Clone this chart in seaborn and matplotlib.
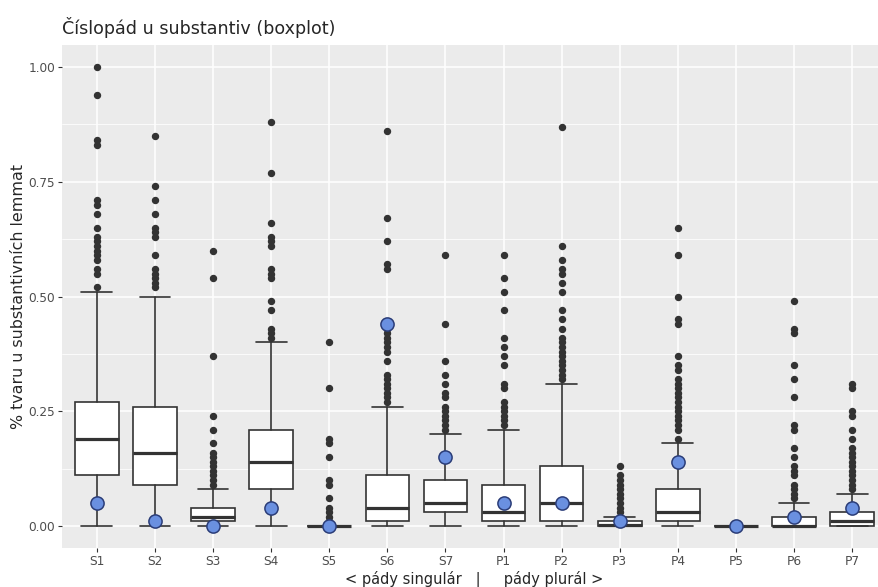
import matplotlib
matplotlib.use('Agg')
import matplotlib.pyplot as plt
import seaborn as sns
from matplotlib.ticker import MultipleLocator, FormatStrFormatter

# box statistics
cases = ['S1', 'S2', 'S3', 'S4', 'S5', 'S6', 'S7', 'P1', 'P2', 'P3', 'P4', 'P5', 'P6', 'P7']
q1 = [0.11, 0.09, 0.01, 0.08, 0.0, 0.01, 0.03, 0.01, 0.01, 0.0, 0.01, 0.0, 0.0, 0.0]
med = [0.19, 0.16, 0.02, 0.14, 0.0, 0.04, 0.05, 0.03, 0.05, 0.003, 0.03, 0.0, 0.0, 0.01]
q3 = [0.27, 0.26, 0.04, 0.21, 0.0, 0.11, 0.10, 0.09, 0.13, 0.01, 0.08, 0.0, 0.02, 0.03]
whislo = [0.0] * 14
whishi = [0.51, 0.50, 0.08, 0.40, 0.0, 0.26, 0.20, 0.21, 0.31, 0.02, 0.18, 0.0, 0.05, 0.07]
means = [0.05, 0.01, 0.0, 0.04, 0.0, 0.44, 0.15, 0.05, 0.05, 0.01, 0.14, 0.0, 0.02, 0.04]

outliers = [
    [1.00, 0.94, 0.84, 0.83, 0.71, 0.70, 0.68, 0.65, 0.63, 0.62, 0.61, 0.60, 0.59, 0.58, 0.56, 0.55, 0.52],
    [0.85, 0.74, 0.71, 0.68, 0.65, 0.64, 0.63, 0.59, 0.56, 0.55, 0.54, 0.53, 0.52],
    [0.60, 0.54, 0.37, 0.24, 0.21, 0.18, 0.16, 0.15, 0.14, 0.13, 0.12, 0.11, 0.10, 0.09],
    [0.88, 0.77, 0.66, 0.63, 0.62, 0.61, 0.56, 0.55, 0.54, 0.49, 0.47, 0.43, 0.42, 0.41],
    [0.40, 0.30, 0.19, 0.18, 0.15, 0.10, 0.09, 0.06, 0.04, 0.03, 0.02, 0.01],
    [0.86, 0.67, 0.62, 0.57, 0.56, 0.43, 0.42, 0.41, 0.40, 0.39, 0.38, 0.36,
     0.33, 0.32, 0.31, 0.30, 0.29, 0.28, 0.27],
    [0.59, 0.44, 0.36, 0.33, 0.31, 0.29, 0.28, 0.26, 0.25, 0.24, 0.23, 0.22, 0.21],
    [0.59, 0.54, 0.51, 0.47, 0.41, 0.39, 0.37, 0.35, 0.31, 0.30, 0.27, 0.26, 0.25, 0.24, 0.23, 0.22],
    [0.87, 0.61, 0.58, 0.56, 0.55, 0.53, 0.51, 0.47, 0.45, 0.43, 0.41, 0.40, 0.39, 0.38,
     0.37, 0.36, 0.35, 0.34, 0.33, 0.32],
    [0.13, 0.11, 0.10, 0.09, 0.08, 0.07, 0.06, 0.05, 0.04, 0.03],
    [0.65, 0.59, 0.50, 0.45, 0.44, 0.37, 0.35, 0.34, 0.32, 0.31, 0.30, 0.29, 0.28, 0.27,
     0.26, 0.25, 0.24, 0.23, 0.22, 0.21, 0.19],
    [],
    [0.49, 0.43, 0.42, 0.35, 0.32, 0.28, 0.22, 0.21, 0.17, 0.15, 0.13, 0.12, 0.11, 0.09, 0.08, 0.07, 0.06],
    [0.31, 0.30, 0.25, 0.24, 0.21, 0.19, 0.17, 0.16, 0.15, 0.14, 0.13, 0.12, 0.11, 0.10, 0.09, 0.08],
]

sns.set_theme(style='darkgrid', rc={
    'axes.facecolor': '#EBEBEB',
    'grid.color': 'white',
})
plt.rcParams['font.family'] = ['DejaVu Sans']

fig = plt.figure(figsize=(8.79, 5.87), dpi=100)
ax = fig.add_axes([62 / 879, 39 / 587, 825 / 879, 503 / 587])

sns.stripplot(x=cases, y=means, ax=ax, jitter=False, size=9.5, color='#6A90E0',
              edgecolor='#2B3D78', linewidth=1.1, zorder=6)

stats = []
for i in range(len(cases)):
    stats.append(dict(label=cases[i], q1=q1[i], med=med[i], q3=q3[i],
                      whislo=whislo[i], whishi=whishi[i], fliers=outliers[i]))

dark = '#333333'
ax.bxp(stats, positions=range(len(cases)), widths=0.75, capwidths=0.53,
       patch_artist=True, manage_ticks=False,
       boxprops=dict(facecolor='white', edgecolor=dark, linewidth=1.2),
       medianprops=dict(color=dark, linewidth=2.3),
       whiskerprops=dict(color=dark, linewidth=1.2),
       capprops=dict(color=dark, linewidth=1.2),
       flierprops=dict(marker='o', markerfacecolor=dark, markeredgecolor=dark,
                       markersize=4.3, linestyle='none'))

ax.set_xlim(-0.6, 13.6)
ax.set_ylim(-0.048, 1.048)
ax.yaxis.set_major_locator(MultipleLocator(0.25))
ax.yaxis.set_minor_locator(MultipleLocator(0.125))
ax.yaxis.set_major_formatter(FormatStrFormatter('%.2f'))
ax.grid(which='major', color='white', linewidth=1.1)
ax.grid(which='minor', axis='y', color='white', linewidth=0.55)
ax.set_axisbelow(True)
for s in ax.spines.values():
    s.set_visible(False)

ax.tick_params(axis='both', which='major', bottom=True, left=True, length=3,
               width=0.8, color=dark, labelcolor='#4D4D4D', labelsize=8.7, pad=2)
ax.tick_params(axis='y', which='minor', left=False)

ax.set_title('Číslopád u substantiv (boxplot)', loc='left', fontsize=12.6, pad=8)
ax.set_xlabel('< pády singulár   |     pády plurál >', fontsize=10.5, labelpad=2)
ax.set_ylabel('% tvaru u substantivních lemmat', fontsize=11.4, labelpad=2)

plt.savefig('out.png', dpi=100)
